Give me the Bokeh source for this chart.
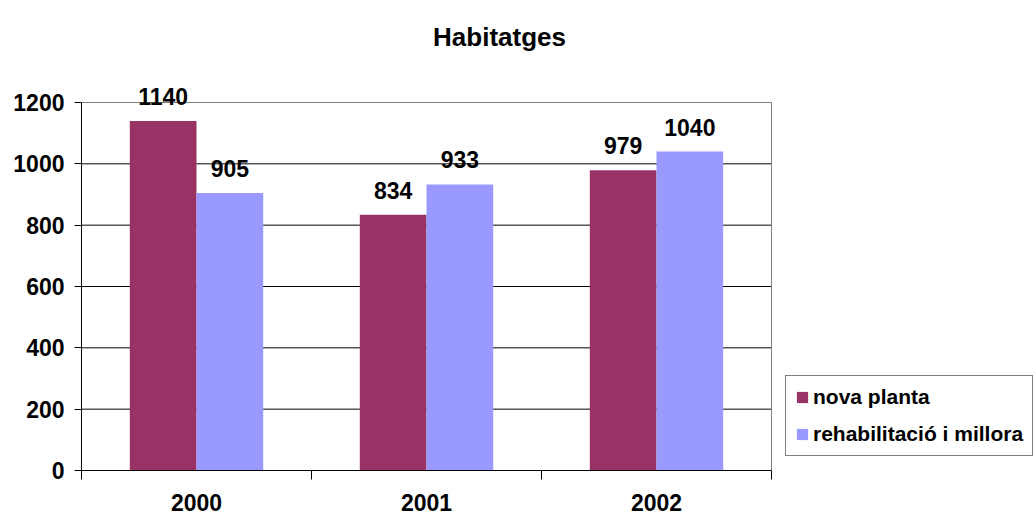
from bokeh.plotting import figure
from bokeh.models import (ColumnDataSource, Range1d, FixedTicker, LabelSet, Label,
                          Legend, LegendItem)
from bokeh.core.properties import value
from bokeh.embed import file_html
from bokeh.resources import INLINE

# ---- data ----
years = ["2000", "2001", "2002"]
nova_planta = [1140, 834, 979]
rehabilitacio = [905, 933, 1040]
y_ticks = [0, 200, 400, 600, 800, 1000, 1200]

FONT = "Liberation Sans"
C_NOVA = "#993366"
C_REHAB = "#9999FF"
BW = 0.29

W, H = 1036, 520
# plot area in page pixels
FL, FR, FT, FB = 81, 771, 102, 470
n = len(years)
ppx = (FR - FL) / n            # px per category
ppy = (FB - FT) / y_ticks[-1]  # px per unit

centers = [i + 0.5 for i in range(n)]
src = ColumnDataSource(dict(
    xn=[c - BW / 2 for c in centers],
    xr=[c + BW / 2 for c in centers],
    nova=nova_planta,
    rehab=rehabilitacio,
    nova_t=[str(v) for v in nova_planta],
    rehab_t=[str(v) for v in rehabilitacio],
))

p = figure(width=W, height=H, output_backend="svg", toolbar_location=None,
           x_range=Range1d(-FL / ppx, (W - FL) / ppx),
           y_range=Range1d(-(H - FB) / ppy, FB / ppy),
           min_border=0, min_border_left=0, min_border_right=0,
           min_border_top=0, min_border_bottom=0,
           background_fill_color="white", border_fill_color="white",
           outline_line_color=None)
p.xgrid.visible = False
p.ygrid.visible = False

# gridlines and plot-area border
inner = y_ticks[1:-1]
p.segment(x0=[0] * len(inner), x1=[n] * len(inner), y0=inner, y1=inner,
          line_color="black", line_width=1)
p.segment(x0=[0, n], x1=[n, n], y0=[y_ticks[-1], 0], y1=[y_ticks[-1], y_ticks[-1]],
          line_color="#808080", line_width=1)

r1 = p.vbar(x="xn", top="nova", width=BW, source=src, fill_color=C_NOVA, line_color=None)
r2 = p.vbar(x="xr", top="rehab", width=BW, source=src, fill_color=C_REHAB, line_color=None)

# axes
yax = p.yaxis[0]
yax.fixed_location = 0
yax.bounds = (0, y_ticks[-1])
yax.ticker = FixedTicker(ticks=y_ticks, minor_ticks=[])
yax.major_label_text_font = FONT
yax.major_label_text_font_style = "bold"
yax.major_label_text_font_size = "23px"
yax.major_label_text_color = "black"
yax.major_tick_in = 0
yax.major_tick_out = 7
yax.major_label_standoff = 10
yax.axis_line_color = "black"
yax.major_tick_line_color = "black"
yax.minor_tick_line_color = None

xax = p.xaxis[0]
xax.fixed_location = 0
xax.bounds = (0, n)
xax.ticker = FixedTicker(ticks=centers, minor_ticks=list(range(n + 1)))
xax.major_label_overrides = {c: y for c, y in zip(centers, years)}
xax.major_label_text_font = FONT
xax.major_label_text_font_style = "bold"
xax.major_label_text_font_size = "23px"
xax.major_label_text_color = "black"
xax.major_tick_in = 0
xax.major_tick_out = 0
xax.major_tick_line_color = None
xax.minor_tick_in = 0
xax.minor_tick_out = 9
xax.minor_tick_line_color = "black"
xax.axis_line_color = "black"
xax.major_label_standoff = 14

# value labels
for xcol, tcol, ycol in (("xn", "nova_t", "nova"), ("xr", "rehab_t", "rehab")):
    p.add_layout(LabelSet(x=xcol, y=ycol, text=tcol, source=src, y_offset=16,
                          text_align="center", text_baseline="alphabetic",
                          text_font=value(FONT), text_font_style="bold",
                          text_font_size="23px", text_color="black"))

# title
p.add_layout(Label(x=499, y=H - 36.7, x_units="screen", y_units="screen",
                   text="Habitatges", text_align="center", text_baseline="alphabetic",
                   text_font=FONT, text_font_style="bold", text_font_size="26px",
                   text_color="black"))

legend = Legend(items=[LegendItem(label="nova planta", renderers=[r1]),
                       LegendItem(label="rehabilitació i millora", renderers=[r2])],
                location=(785, H - 456), margin=0, padding=9, spacing=13,
                label_height=24, glyph_width=14, glyph_height=14, label_standoff=4,
                label_text_font=FONT, label_text_font_style="bold",
                label_text_font_size="21px", label_text_color="black",
                border_line_color="black", border_line_width=1,
                background_fill_color="white", background_fill_alpha=1)
p.add_layout(legend)

open("out.html", "w").write(file_html(p, INLINE))
